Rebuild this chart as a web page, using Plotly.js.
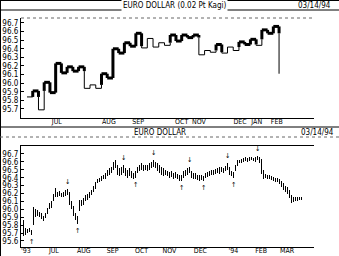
<!DOCTYPE html>
<html><head><meta charset="utf-8">
<script src="https://cdn.plot.ly/plotly-3.0.1.min.js"></script>
<style>html,body{margin:0;padding:0;background:#fff}#chart{width:339px;height:256px}</style>
</head><body><div id="chart"></div>
<script>
// ---- Top panel: Kagi (0.02 pt) reversal levels ----
const kagiLevels = [95.84, 95.91, 95.69, 96.01, 95.89, 96.23, 96.12, 96.19, 96.14, 96.19,
  95.94, 95.98, 95.94, 96.11, 96.06, 96.40, 96.35, 96.47, 96.43, 96.58,
  96.41, 96.52, 96.42, 96.47, 96.44, 96.56, 96.49, 96.56, 96.53, 96.56,
  96.33, 96.38, 96.36, 96.45, 96.35, 96.42, 96.38, 96.48, 96.45, 96.51,
  96.44, 96.62, 96.58, 96.66];
const kagiLast = 96.11;
const kagiMonthPos = [5.2, 14.3, 19.4, 27.0, 30.0, 37.2, 40.1, 43.6];
const kagiMonthText = ["JUL", "AUG", "SEP", "OCT", "NOV", "DEC", "JAN", "FEB"];

// ---- Bottom panel: bars (high / low) ----
const barHigh = [95.94, 95.86, 95.76, 95.75, 95.76, 95.74, 96.03, 96.00, 95.99, 95.97,
  95.95, 95.92, 95.95, 96.02, 96.08, 96.10, 96.20, 96.27, 96.22, 96.23,
  96.21, 96.22, 96.24, 96.26, 96.22, 96.10, 96.04, 95.96, 95.92, 96.12,
  96.12, 96.14, 96.18, 96.20, 96.22, 96.24, 96.30, 96.34, 96.38, 96.40,
  96.42, 96.44, 96.46, 96.50, 96.52, 96.54, 96.60, 96.62, 96.56, 96.52,
  96.54, 96.56, 96.52, 96.50, 96.52, 96.48, 96.46, 96.48, 96.54, 96.56,
  96.58, 96.56, 96.56, 96.56, 96.58, 96.60, 96.62, 96.60, 96.58, 96.56,
  96.54, 96.52, 96.50, 96.48, 96.47, 96.48, 96.46, 96.47, 96.45, 96.44,
  96.43, 96.48, 96.50, 96.52, 96.54, 96.48, 96.46, 96.46, 96.44, 96.43,
  96.44, 96.42, 96.46, 96.47, 96.49, 96.50, 96.50, 96.51, 96.52, 96.53,
  96.54, 96.52, 96.55, 96.58, 96.54, 96.48, 96.47, 96.56, 96.62, 96.63,
  96.64, 96.65, 96.66, 96.65, 96.66, 96.66, 96.65, 96.66, 96.68, 96.66,
  96.64, 96.50, 96.45, 96.44, 96.43, 96.42, 96.41, 96.40, 96.40, 96.38,
  96.36, 96.33, 96.30, 96.28, 96.24, 96.18, 96.16, 96.16, 96.16, 96.15,
  96.15];
const barLow = [95.70, 95.66, 95.68, 95.70, 95.71, 95.68, 95.80, 95.90, 95.92, 95.90,
  95.88, 95.85, 95.89, 95.94, 96.00, 96.02, 96.10, 96.16, 96.15, 96.17,
  96.15, 96.16, 96.17, 96.18, 96.06, 96.00, 95.92, 95.86, 95.82, 95.98,
  96.04, 96.06, 96.10, 96.12, 96.14, 96.18, 96.22, 96.26, 96.33, 96.34,
  96.36, 96.38, 96.38, 96.42, 96.44, 96.46, 96.50, 96.52, 96.44, 96.42,
  96.44, 96.46, 96.42, 96.40, 96.42, 96.40, 96.38, 96.40, 96.46, 96.48,
  96.50, 96.48, 96.50, 96.48, 96.50, 96.52, 96.54, 96.52, 96.48, 96.46,
  96.44, 96.42, 96.44, 96.42, 96.40, 96.41, 96.39, 96.40, 96.38, 96.36,
  96.36, 96.40, 96.42, 96.44, 96.46, 96.40, 96.38, 96.39, 96.37, 96.36,
  96.37, 96.36, 96.40, 96.41, 96.42, 96.43, 96.44, 96.45, 96.46, 96.45,
  96.47, 96.46, 96.48, 96.50, 96.44, 96.42, 96.40, 96.48, 96.55, 96.58,
  96.59, 96.60, 96.61, 96.60, 96.61, 96.62, 96.61, 96.60, 96.62, 96.58,
  96.45, 96.38, 96.40, 96.38, 96.38, 96.37, 96.36, 96.35, 96.34, 96.32,
  96.28, 96.25, 96.22, 96.20, 96.14, 96.08, 96.09, 96.10, 96.11, 96.12,
  96.12];
const swingHighIdx = [23, 51, 66, 84, 103, 118];
const swingLowIdx = [5, 28, 57, 80, 91, 106];
const barMonthPos = [2, 16, 31, 45.5, 60, 74, 89.5, 106, 120, 133];
const barMonthText = ["'93", "JUL", "AUG", "SEP", "OCT", "NOV", "DEC", "'94", "FEB", "MAR"];

const topTicks = [95.7, 95.8, 95.9, 96.0, 96.1, 96.2, 96.3, 96.4, 96.5, 96.6, 96.7];
const botTicks = [95.6, 95.7, 95.8, 95.9, 96.0, 96.1, 96.2, 96.3, 96.4, 96.5, 96.6, 96.7];

// ---- build kagi line pieces (yang = thick, yin = thin) ----
const thickX = [], thickY = [], thinX = [], thinY = [];
function addPiece(isThick, xs, ys) {
  const X = isThick ? thickX : thinX, Y = isThick ? thickY : thinY;
  if (X.length) { X.push(null); Y.push(null); }
  xs.forEach(v => X.push(v)); ys.forEach(v => Y.push(v));
}
(function () {
  let thick = false, prevShoulder = -Infinity, prevWaist = kagiLevels[0];
  const all = kagiLevels.concat([kagiLast]);
  for (let i = 0; i < kagiLevels.length; i++) {
    addPiece(thick, [i, i + 1], [all[i], all[i]]);
    const a = all[i], b = all[i + 1], xv = i + 1;
    if (b > a) {
      if (!thick && b > prevShoulder) {
        const s = Math.max(a, prevShoulder);
        if (s > a) addPiece(false, [xv, xv], [a, s]);
        addPiece(true, [xv, xv], [s, b]);
        thick = true;
      } else addPiece(thick, [xv, xv], [a, b]);
      prevShoulder = b;
    } else {
      if (thick && b < prevWaist) {
        const s = Math.min(a, prevWaist);
        if (s < a) addPiece(true, [xv, xv], [a, s]);
        addPiece(false, [xv, xv], [s, b]);
        thick = false;
      } else addPiece(thick, [xv, xv], [a, b]);
      prevWaist = b;
    }
  }
})();

const idx = barHigh.map((_, i) => i);
const FAM = "DejaVu Sans Condensed, Liberation Sans Narrow, DejaVu Sans, sans-serif";
const fnt = {family: FAM, size: 8, color: "#000"};
const fntX = {family: FAM, size: 7, color: "#000"};

const traces = [
  {type: "scatter", mode: "lines", x: thinX, y: thinY, xaxis: "x", yaxis: "y",
   line: {color: "#000", width: 1}, hoverinfo: "skip", connectgaps: false},
  {type: "scatter", mode: "lines", x: thickX, y: thickY, xaxis: "x", yaxis: "y",
   line: {color: "#000", width: 3}, hoverinfo: "skip", connectgaps: false},
  {type: "bar", x: idx, y: barHigh.map((h, i) => h - barLow[i]), base: barLow,
   xaxis: "x2", yaxis: "y2", width: 0.5, marker: {color: "#000", line: {width: 0}}, hoverinfo: "skip"}
];

// swing arrows (down arrow above swing highs, up arrow below swing lows)
const arrowAnn = [];
swingHighIdx.forEach(i => arrowAnn.push({text: "\u2193", x: i, y: barHigh[i], xref: "x2", yref: "y2",
  showarrow: false, yanchor: "bottom", yshift: 1, font: {family: FAM, size: 7, color: "#000"}}));
swingLowIdx.forEach(i => arrowAnn.push({text: "\u2191", x: i, y: barLow[i], xref: "x2", yref: "y2",
  showarrow: false, yanchor: "top", yshift: -1, font: {family: FAM, size: 7, color: "#000"}}));

const xd = [21 / 339, 314 / 339];
const yAx = (dom, rng, ticks, side) => ({
  domain: dom, range: rng, tickvals: ticks, ticktext: ticks.map(v => v.toFixed(1)),
  showgrid: false, zeroline: false, showline: true, linecolor: "#000", linewidth: 1,
  ticks: "inside", ticklen: 3, tickcolor: "#000", tickfont: fnt, side: side, fixedrange: true
});

const layout = {
  width: 339, height: 256, margin: {l: 0, r: 0, t: 0, b: 0},
  paper_bgcolor: "#fff", plot_bgcolor: "rgba(0,0,0,0)", showlegend: false, bargap: 0,
  xaxis: {domain: xd, range: [-1.05, 50.1], anchor: "y", showgrid: false, zeroline: false,
    showline: true, linecolor: "#000", linewidth: 1, tickvals: kagiMonthPos, ticktext: kagiMonthText,
    ticks: "", tickfont: fntX, ticklabelstandoff: -3, fixedrange: true},
  yaxis: yAx([1 - 118 / 256, 1 - 18 / 256], [95.595, 96.758], topTicks, "left"),
  yaxis3: Object.assign(yAx([1 - 118 / 256, 1 - 18 / 256], [95.595, 96.758], topTicks, "right"),
    {overlaying: "y", anchor: "x", ticklabelstandoff: 5}),
  xaxis2: {domain: xd, range: [-0.5, 146.5], anchor: "y2", showgrid: false, zeroline: false,
    showline: true, mirror: true, linecolor: "#000", linewidth: 1, tickvals: barMonthPos, ticktext: barMonthText,
    ticks: "", tickfont: fntX, ticklabelstandoff: -3, fixedrange: true},
  yaxis2: Object.assign(yAx([1 - 247 / 256, 1 - 146 / 256], [95.524, 96.801], botTicks, "left"), {anchor: "x2"}),
  yaxis4: Object.assign(yAx([1 - 247 / 256, 1 - 146 / 256], [95.524, 96.801], botTicks, "right"),
    {overlaying: "y2", anchor: "x2", ticklabelstandoff: 5}),
  shapes: [
    {type: "line", xref: "paper", yref: "paper", x0: 0, x1: 1, y0: 1 - 0.5 / 256, y1: 1 - 0.5 / 256, line: {color: "#000", width: 1}},
    {type: "line", xref: "paper", yref: "paper", x0: 0, x1: 1, y0: 1 - 10 / 256, y1: 1 - 10 / 256, line: {color: "#000", width: 1}},
    {type: "line", xref: "paper", yref: "paper", x0: 0.5 / 339, x1: 0.5 / 339, y0: 0, y1: 1, line: {color: "#000", width: 1}},
    {type: "line", xref: "paper", yref: "paper", x0: 21 / 339, x1: 314 / 339, y0: 1 - 18 / 256, y1: 1 - 18 / 256, line: {color: "#666", width: 1, dash: "dot"}},
    {type: "line", xref: "paper", yref: "paper", x0: 0, x1: 1, y0: 1 - 127 / 256, y1: 1 - 127 / 256, line: {color: "#000", width: 1}},
    {type: "line", xref: "paper", yref: "paper", x0: 0, x1: 1, y0: 1 - 137 / 256, y1: 1 - 137 / 256, line: {color: "#666", width: 1, dash: "dot"}}
  ],
  annotations: [
    {text: "EURO DOLLAR (0.02 Pt Kagi)", xref: "paper", yref: "paper", x: 175 / 339, y: 1 - 5 / 256, showarrow: false, font: fnt, xanchor: "center", yanchor: "middle", bgcolor: "#fff"},
    {text: "03/14/94", xref: "paper", yref: "paper", x: 333 / 339, y: 1 - 5 / 256, showarrow: false, font: fnt, xanchor: "right", yanchor: "middle"},
    {text: "EURO DOLLAR", xref: "paper", yref: "paper", x: 160 / 339, y: 1 - 132 / 256, showarrow: false, font: fnt, xanchor: "center", yanchor: "middle"},
    {text: "03/14/94", xref: "paper", yref: "paper", x: 336 / 339, y: 1 - 132 / 256, showarrow: false, font: fnt, xanchor: "right", yanchor: "middle"}
  ].concat(arrowAnn)
};

Plotly.newPlot("chart", traces, layout, {staticPlot: true, displayModeBar: false});
</script></body></html>
